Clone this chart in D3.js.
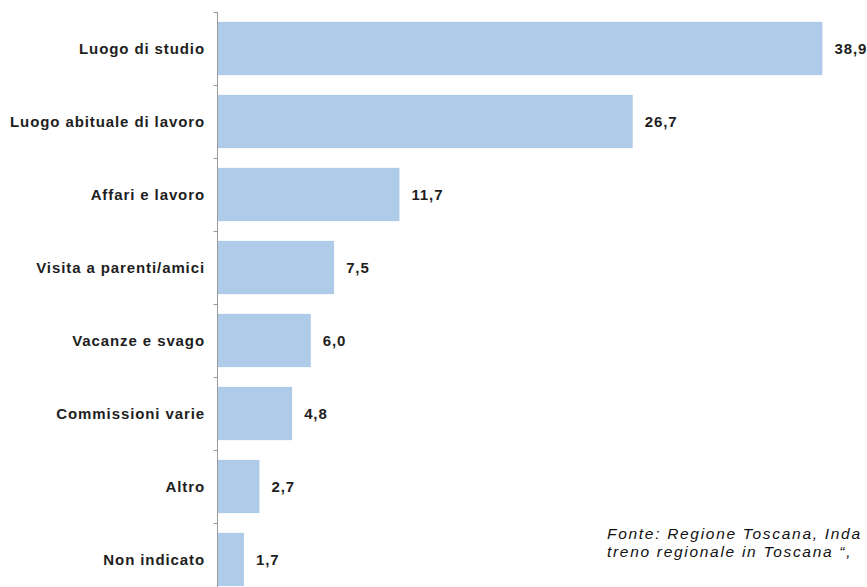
<!DOCTYPE html>
<html>
<head>
<meta charset="utf-8">
<script src="https://cdn.jsdelivr.net/npm/d3@7"></script>
<style>
  html, body { margin: 0; padding: 0; background: #fff; }
  svg { display: block; }
</style>
</head>
<body>
<svg id="chart" width="867" height="587"></svg>
<script>
// Motivo dello spostamento (% degli intervistati)
const categories = [
  "Luogo di studio",
  "Luogo abituale di lavoro",
  "Affari e lavoro",
  "Visita a parenti/amici",
  "Vacanze e svago",
  "Commissioni varie",
  "Altro",
  "Non indicato"
];
const values = [38.9, 26.7, 11.7, 7.5, 6.0, 4.8, 2.7, 1.7];
const sourceLines = [
  "Fonte: Regione Toscana, Inda",
  "treno regionale in Toscana “,"
];

const data = categories.map((c, i) => ({ category: c, value: values[i] }));
const fmt = v => d3.format(".1f")(v).replace(".", ",");

const svg = d3.select("#chart");
const axisX = 217.5;
const plotTop = 12;
const step = 73;

const x = d3.scaleLinear().domain([0, 40]).range([axisX, axisX + 40 * 15.55]);

// band scale for the bars
const y = d3.scaleBand()
  .domain(categories)
  .range([plotTop, plotTop + step * categories.length])
  .paddingInner(0.27)
  .paddingOuter(0.135);

// band scale without padding: tick marks sit on the boundaries
const yEdge = d3.scaleBand()
  .domain(categories)
  .range([plotTop, plotTop + step * categories.length]);

// bars
svg.append("g")
  .selectAll("rect")
  .data(data)
  .join("rect")
  .attr("x", x(0))
  .attr("y", d => y(d.category))
  .attr("width", d => x(d.value) - x(0))
  .attr("height", y.bandwidth())
  .attr("fill", "#aecbe9");

// category axis
const axisG = svg.append("g").attr("stroke", "#999").attr("stroke-width", 1);
axisG.append("line")
  .attr("x1", axisX).attr("x2", axisX)
  .attr("y1", plotTop).attr("y2", 587);
axisG.selectAll("line.tick")
  .data(categories)
  .join("line")
  .attr("class", "tick")
  .attr("x1", axisX - 4).attr("x2", axisX)
  .attr("y1", d => Math.round(yEdge(d)) + 0.5)
  .attr("y2", d => Math.round(yEdge(d)) + 0.5);

const labelFont = "'Liberation Sans', Arial, sans-serif";

// category labels
svg.append("g")
  .selectAll("text")
  .data(data)
  .join("text")
  .attr("x", 205)
  .attr("y", d => y(d.category) + y.bandwidth() / 2)
  .attr("dy", "0.35em")
  .attr("text-anchor", "end")
  .attr("font-family", labelFont)
  .attr("font-weight", "bold")
  .attr("font-size", 15)
  .attr("letter-spacing", 0.9)
  .attr("fill", "#1e1e1e")
  .text(d => d.category);

// value labels
svg.append("g")
  .selectAll("text")
  .data(data)
  .join("text")
  .attr("x", d => x(d.value) + 12)
  .attr("y", d => y(d.category) + y.bandwidth() / 2)
  .attr("dy", "0.35em")
  .attr("font-family", labelFont)
  .attr("font-weight", "bold")
  .attr("font-size", 15)
  .attr("letter-spacing", 0.9)
  .attr("fill", "#1e1e1e")
  .text(d => fmt(d.value));

// source note, two lines
svg.append("g")
  .selectAll("text")
  .data(sourceLines)
  .join("text")
  .attr("x", 607)
  .attr("y", (d, i) => 538.5 + i * 18)
  .attr("font-family", labelFont)
  .attr("font-style", "italic")
  .attr("font-size", 15.5)
  .attr("letter-spacing", 1.7)
  .attr("fill", "#111")
  .text(d => d);
</script>
</body>
</html>
